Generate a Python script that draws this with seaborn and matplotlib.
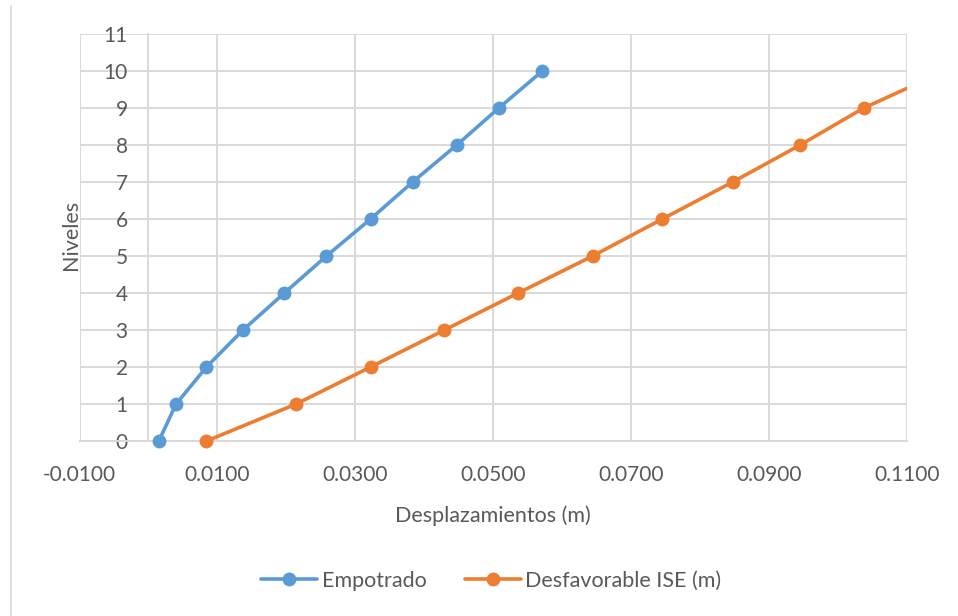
import pandas as pd
import matplotlib
matplotlib.use("Agg")
import matplotlib.pyplot as plt
import matplotlib.patches as mpatches
import matplotlib.lines as mlines
import seaborn as sns

# data
niveles = [0, 1, 2, 3, 4, 5, 6, 7, 8, 9, 10]
empotrado = [0.0015, 0.0040, 0.0084, 0.0137, 0.0197, 0.0258, 0.0322, 0.0383, 0.0447, 0.0508, 0.0571]
desfavorable = [0.0084, 0.0214, 0.0322, 0.0429, 0.0536, 0.0644, 0.0745, 0.0847, 0.0945, 0.1037, 0.1155]
series_names = ["Empotrado", "Desfavorable ISE (m)"]
x_ticks = [-0.01, 0.01, 0.03, 0.05, 0.07, 0.09, 0.11]
x_tick_labels = ["-0.0100", "0.0100", "0.0300", "0.0500", "0.0700", "0.0900", "0.1100"]
y_ticks = list(range(0, 12))

colors = ["#5B9BD5", "#ED7D31"]
text_color = "#595959"
grid_color = "#D9D9D9"

sns.set_theme(style="white")
plt.rcParams['font.family'] = ['Lato', 'DejaVu Sans']

df = pd.concat([
    pd.DataFrame({"x": empotrado, "nivel": niveles, "serie": series_names[0]}),
    pd.DataFrame({"x": desfavorable, "nivel": niveles, "serie": series_names[1]}),
])

fig = plt.figure(figsize=(9.58, 6.16), dpi=100)
ax = fig.add_axes([0.083, 0.284, 0.8638, 0.6607])

sns.lineplot(data=df, x="x", y="nivel", hue="serie", palette=colors,
             marker="o", markersize=10, markeredgewidth=0, linewidth=2.6,
             estimator=None, sort=False, legend=False, ax=ax, zorder=3)

ax.set_xlim(-0.01, 0.11)
ax.set_ylim(0, 11)
ax.set_xticks(x_ticks)
ax.set_xticklabels(x_tick_labels)
ax.set_yticks(y_ticks)

# let markers spill below the axis but clip at the right edge
clip = mpatches.Rectangle((0, -0.1), 1, 1.2, transform=ax.transAxes,
                          facecolor="none", edgecolor="none")
for ln in ax.lines:
    ln.set_clip_path(clip)

ax.grid(True, color=grid_color, linewidth=1.4)
ax.set_axisbelow(True)
for side in ["top", "right"]:
    ax.spines[side].set_visible(False)
ax.spines["left"].set_position(("data", 0))
ax.spines["left"].set_color(grid_color)
ax.spines["bottom"].set_color(grid_color)
ax.spines["left"].set_linewidth(1.4)
ax.spines["bottom"].set_linewidth(1.4)

ax.tick_params(axis="both", length=0, labelsize=15, labelcolor=text_color)
ax.tick_params(axis="y", pad=15)
ax.tick_params(axis="x", pad=17)

ax.set_xlabel("Desplazamientos (m)", fontsize=15.5, color=text_color)
ax.set_ylabel("Niveles", fontsize=15.5, color=text_color)
ax.xaxis.set_label_coords(0.4995, -0.184)
ax.xaxis.label.set_va("center")
ax.yaxis.set_label_coords(-0.0103, 0.506)
ax.yaxis.label.set_va("center")

handles = [mlines.Line2D([], [], color=c, marker="o", markersize=10,
                         markeredgewidth=0, linewidth=2.6) for c in colors]
fig.legend(handles, series_names, loc="center", bbox_to_anchor=(0.513, 0.057),
           ncol=2, frameon=False, fontsize=15.5, labelcolor=text_color,
           handlelength=2.6, columnspacing=1.8, handletextpad=0.2)

# faint chart area border on the left
fig.add_artist(mlines.Line2D([0.0115, 0.0115], [0, 0.99], color=grid_color,
                             linewidth=1.2, transform=fig.transFigure))

fig.savefig("out.png", dpi=100)
